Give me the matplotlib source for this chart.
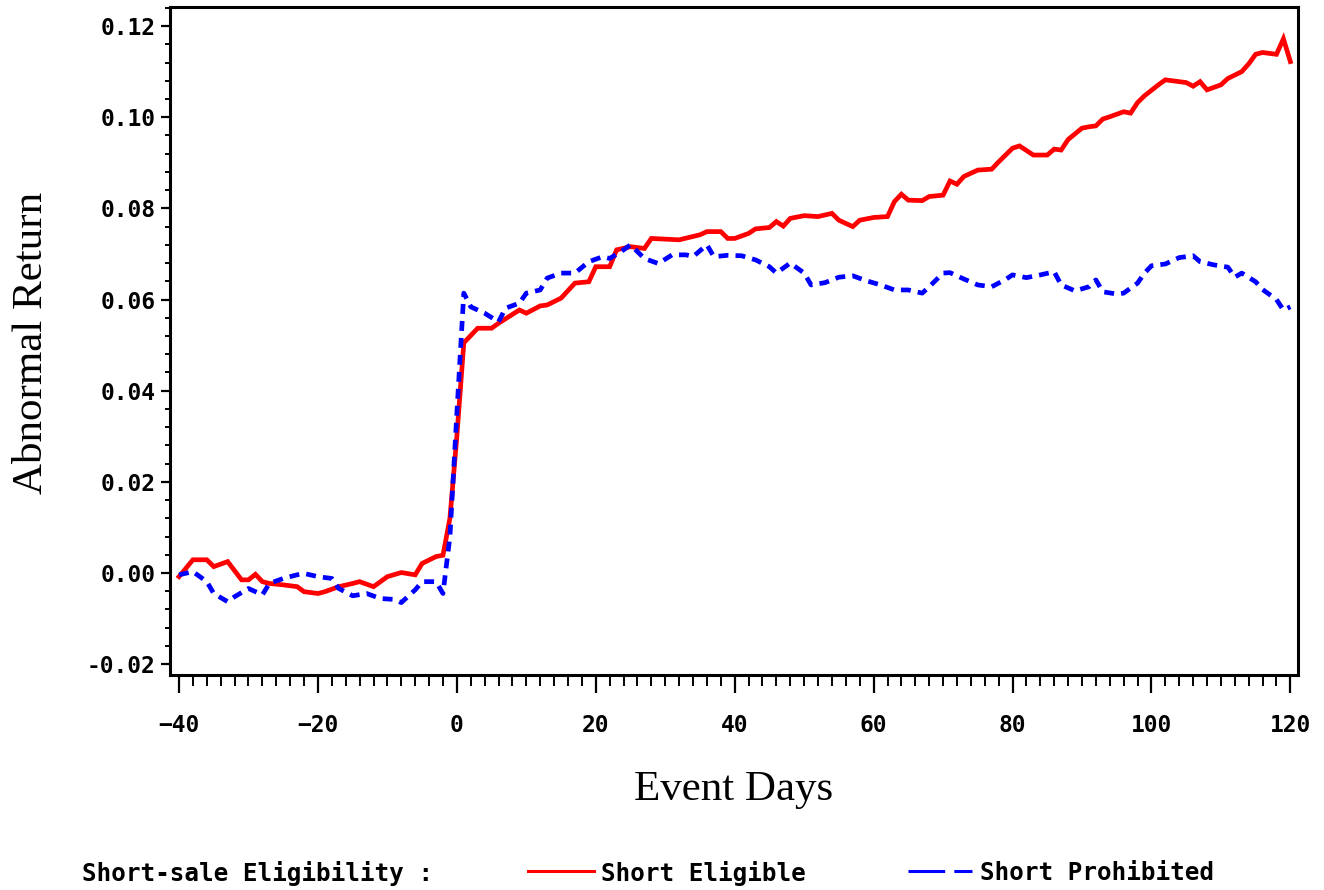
import matplotlib
matplotlib.use("Agg")
import matplotlib.pyplot as plt
from matplotlib.lines import Line2D
from matplotlib.ticker import MultipleLocator, FormatStrFormatter

# ---- data ----
elig_days = [-40, -38, -36, -35, -33, -31, -30, -29, -28, -27, -25, -23, -22, -20, -19,
             -17, -15, -14, -12, -11, -10, -8, -6, -5, -3, -2, -1, 0, 1, 3, 5, 6, 9, 10,
             12, 13, 15, 17, 19, 20, 22, 23, 25, 27, 28, 32, 35, 36, 38, 39, 40, 42, 43,
             45, 46, 47, 48, 50, 52, 54, 55, 57, 58, 60, 62, 63, 64, 65, 67, 68, 70, 71,
             72, 73, 75, 77, 78, 80, 81, 83, 85, 86, 87, 88, 90, 91, 92, 93, 94, 96, 97,
             98, 99, 101, 102, 105, 106, 107, 108, 110, 111, 113, 114, 115, 116, 118, 119, 120]
elig_ret = [-0.0008, 0.0029, 0.0029, 0.0014, 0.0025, -0.0015, -0.0015, -0.0003, -0.0019,
            -0.0023, -0.0026, -0.0030, -0.0041, -0.0045, -0.0041, -0.0030, -0.0023, -0.0019,
            -0.0030, -0.0019, -0.0008, 0.0001, -0.0004, 0.0021, 0.0036, 0.0039, 0.0120,
            0.0300, 0.0505, 0.0537, 0.0537, 0.0548, 0.0577, 0.0570, 0.0586, 0.0588, 0.0603,
            0.0636, 0.0639, 0.0672, 0.0672, 0.0709, 0.0716, 0.0712, 0.0734, 0.0731, 0.0742,
            0.0749, 0.0749, 0.0734, 0.0734, 0.0745, 0.0755, 0.0758, 0.0771, 0.0761, 0.0778,
            0.0784, 0.0782, 0.0789, 0.0774, 0.0760, 0.0774, 0.0780, 0.0782, 0.0815, 0.0831,
            0.0818, 0.0817, 0.0826, 0.0829, 0.0860, 0.0853, 0.0870, 0.0884, 0.0886, 0.0902,
            0.0932, 0.0937, 0.0917, 0.0917, 0.0930, 0.0928, 0.0951, 0.0976, 0.0979, 0.0981,
            0.0996, 0.1001, 0.1012, 0.1009, 0.1032, 0.1047, 0.1071, 0.1082, 0.1076, 0.1068,
            0.1078, 0.1060, 0.1071, 0.1085, 0.1100, 0.1117, 0.1138, 0.1142, 0.1138, 0.1172,
            0.1122]

proh_days = [-40, -38, -36, -35, -33, -32, -30, -28, -27, -25, -23, -22, -20, -18, -17,
             -15, -13, -11, -9, -8, -6, -5, -3, -2, -1, 0, 1, 2, 4, 6, 7, 9, 10, 12, 13,
             15, 17, 19, 21, 22, 24, 25, 27, 29, 31, 33, 34, 36, 37, 39, 41, 43, 45, 46,
             48, 50, 51, 53, 55, 57, 59, 61, 63, 65, 67, 68, 70, 71, 73, 75, 77, 79, 80,
             82, 84, 86, 87, 89, 91, 92, 93, 95, 96, 98, 99, 100, 102, 104, 106, 107, 109,
             111, 112, 113, 115, 116, 118, 119, 120]
proh_ret = [-0.0004, 0.0003, -0.0019, -0.0045, -0.0063, -0.0052, -0.0034, -0.0048, -0.0023,
            -0.0012, -0.0004, -0.0001, -0.0008, -0.0012, -0.0034, -0.0050, -0.0045, -0.0056,
            -0.0058, -0.0065, -0.0037, -0.0019, -0.0019, -0.0045, 0.0080, 0.0350, 0.0614,
            0.0584, 0.0570, 0.0551, 0.0581, 0.0592, 0.0614, 0.0621, 0.0647, 0.0658, 0.0658,
            0.0683, 0.0694, 0.0690, 0.0709, 0.0720, 0.0690, 0.0679, 0.0698, 0.0698, 0.0694,
            0.0720, 0.0694, 0.0697, 0.0696, 0.0687, 0.0672, 0.0658, 0.0680, 0.0658, 0.0632,
            0.0637, 0.0649, 0.0652, 0.0641, 0.0632, 0.0621, 0.0621, 0.0614, 0.0628, 0.0658,
            0.0659, 0.0645, 0.0632, 0.0628, 0.0644, 0.0654, 0.0648, 0.0654, 0.0661, 0.0632,
            0.0619, 0.0628, 0.0643, 0.0617, 0.0612, 0.0614, 0.0636, 0.0658, 0.0674, 0.0678,
            0.0692, 0.0696, 0.0683, 0.0676, 0.0671, 0.0649, 0.0658, 0.0639, 0.0622, 0.0600,
            0.0577, 0.0584]

x_label = "Event Days"
y_label = "Abnormal Return"
legend_title = "Short-sale Eligibility :"
series_names = ["Short Eligible", "Short Prohibited"]

# ---- figure ----
W, H = 1324, 890
fig = plt.figure(figsize=(W / 100, H / 100), dpi=100)
ax = fig.add_axes([170 / W, 1 - 675 / H, (1298 - 170) / W, (675 - 7) / H])

ax.plot(elig_days, elig_ret, color="#ff0000", lw=3.4, solid_joinstyle="miter")
ax.plot(proh_days, proh_ret, color="#0000ff", lw=3.4, dashes=(2.1, 1.5))

ax.set_xlim(-41.3, 121.1)
ax.set_ylim(-0.02238, 0.12418)

ax.xaxis.set_major_locator(MultipleLocator(20))
ax.xaxis.set_minor_locator(MultipleLocator(2))
ax.yaxis.set_major_locator(MultipleLocator(0.02))
ax.yaxis.set_minor_locator(MultipleLocator(0.004))
ax.yaxis.set_major_formatter(FormatStrFormatter("%.2f"))

tick_font = dict(family="DejaVu Sans Mono", weight="bold", size=16.5)
ax.tick_params(axis="x", which="major", length=13, width=1.6, direction="out", pad=15)
ax.tick_params(axis="x", which="minor", length=8, width=1.4, direction="out")
ax.tick_params(axis="y", which="major", length=6.5, width=1.6, direction="out", pad=4)
ax.tick_params(axis="y", which="minor", length=3.5, width=1.4, direction="out")
for lab in ax.get_xticklabels() + ax.get_yticklabels():
    lab.set_fontfamily(tick_font["family"])
    lab.set_fontweight(tick_font["weight"])
    lab.set_fontsize(tick_font["size"])
for sp in ax.spines.values():
    sp.set_linewidth(2.2)
    sp.set_color("black")

fig.text(734 / W, 1 - 790 / H, x_label, family="Liberation Serif", size=31,
         ha="center", va="center")
fig.text(32 / W, 1 - 343 / H, y_label, family="Liberation Serif", size=31,
         ha="center", va="center", rotation=90)

# ---- legend at bottom ----
ly = 1 - 873 / H
leg_font = dict(family="DejaVu Sans Mono", weight="bold", size=17.5)
fig.text(82 / W, ly, legend_title, ha="left", va="center", **leg_font)
fig.add_artist(Line2D([528 / W, 594 / W], [ly + 2 / H, ly + 2 / H], color="#ff0000", lw=2.2,
                      transform=fig.transFigure))
fig.text(601 / W, ly, series_names[0], ha="left", va="center", **leg_font)
fig.add_artist(Line2D([908 / W, 972 / W], [ly + 2 / H, ly + 2 / H], color="#0000ff", lw=2.2,
                      dashes=(12, 3, 6, 40), transform=fig.transFigure))
fig.text(980 / W, ly, series_names[1], ha="left", va="center", **leg_font)

fig.savefig("out.png", dpi=100)
